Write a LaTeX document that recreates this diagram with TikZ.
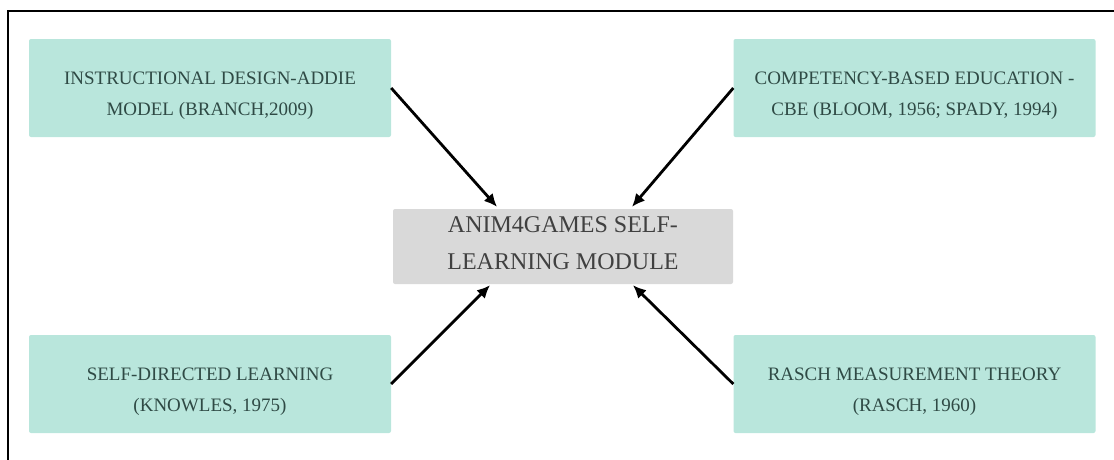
\documentclass[tikz,border=0pt]{standalone}
\usepackage{fontspec}
\newfontfamily\timesfont{Liberation Serif}
\usepackage{xcolor}
\usetikzlibrary{arrows.meta,calc}

\definecolor{mint}{HTML}{B9E6DC}
\definecolor{boxgray}{HTML}{D9D9D9}
\definecolor{inktext}{HTML}{2F4A45}

% pushes the two text lines a bit below the box centre
\newcommand{\toppad}{\rule{0pt}{28pt}}

\tikzset{
  srcbox/.style={fill=mint,rounded corners=2pt,minimum width=362pt,minimum height=98pt,
    align=center,text=inktext,font=\timesfont\fontsize{19}{31}\selectfont},
  midbox/.style={fill=boxgray,rounded corners=2pt,minimum width=340pt,minimum height=75pt,
    align=center,text=black!75,font=\timesfont\fontsize{24}{37}\selectfont,
    execute at end node={\rule[-6pt]{0pt}{0pt}}},
  feed/.style={->,line width=2.8pt}
}

\begin{document}
\begin{tikzpicture}[x=1pt,y=-1pt,>={Latex[length=13pt,width=12pt]}]
  \useasboundingbox (0,0) rectangle (1114,459);
  \draw[line width=2pt] (8,470) -- (8,11) -- (1125,11);
  \node[srcbox] (addie) at (210,88) {\toppad INSTRUCTIONAL DESIGN-ADDIE\\MODEL (BRANCH,2009)};
  \node[srcbox] (cbe) at (914.5,88) {\toppad COMPETENCY-BASED EDUCATION -\\CBE (BLOOM, 1956; SPADY, 1994)};
  \node[srcbox] (sdl) at (210,384) {\toppad SELF-DIRECTED LEARNING\\(KNOWLES, 1975)};
  \node[srcbox] (rasch) at (914.5,384) {\toppad RASCH MEASUREMENT THEORY\\(RASCH, 1960)};
  \node[midbox] (module) at (563,246.5) {ANIM4GAMES SELF-\\LEARNING MODULE};
  \draw[feed] (addie.east) -- ($(module.north)+(-66,-2)$);
  \draw[feed] (cbe.west) -- ($(module.north)+(69,-2)$);
  \draw[feed] (sdl.east) -- ($(module.south)+(-73,1)$);
  \draw[feed] (rasch.west) -- ($(module.south)+(70,1)$);
\end{tikzpicture}
\end{document}
